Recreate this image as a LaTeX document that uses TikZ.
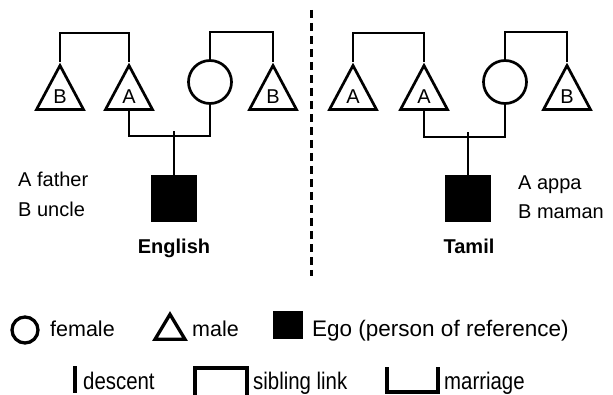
\documentclass[tikz,border=0pt]{standalone}
\usepackage{fontspec}
\usepackage{graphicx}
\setmainfont{Liberation Sans}
\usetikzlibrary{shapes.geometric}
\newcommand{\narrowtext}[1]{%
    \scalebox{0.85}[1]{#1}\ignorespaces
}
\tikzset{
    male/.style={draw, line width=2.7pt, isosceles triangle, shape border rotate=90,
        isosceles triangle stretches, minimum width=47pt, minimum height=44pt,
        inner sep=0pt, anchor=apex},
    female/.style={draw, line width=2.7pt, circle, minimum size=43pt, inner sep=0pt},
    ego/.style={fill=black, minimum width=46pt, minimum height=47pt, inner sep=0pt, anchor=north},
    term/.style={anchor=base, inner sep=0pt},
    link/.style={line width=2.7pt},
    legline/.style={line width=3.3pt},
    legtext/.style={anchor=base west, inner sep=0pt},
}

\begin{document}
\begin{tikzpicture}[x=1pt, y=-1pt, font=\fontsize{20}{24}\selectfont]
    \useasboundingbox (0,0) rectangle (613,395);

    % English kin terms
    \node[male] (engB1) at (60,62) {};
    \node[male] (engA) at (129,62) {};
    \node[female] (engM) at (210,82) {};
    \node[male] (engB2) at (273,62) {};
    \node[ego] (engEgo) at (174,175) {};
    \node[term] at ([yshift=7pt]engB1.lower side) {B};
    \node[term] at ([yshift=7pt]engA.lower side) {A};
    \node[term] at ([yshift=7pt]engB2.lower side) {B};
    \draw[link] (engB1.apex) -- ++(0,-29) -| (engA.apex);
    \draw[link] (engM.north) -- ++(0,-27) -| (engB2.apex);
    \draw[link] (engA.lower side) -- ++(0,25) -| (engM.south);
    \draw[link] (engEgo.north) -- ++(0,-44);
    \node[legtext] (engKeyA) at (18,187) {A father};
    \node[legtext] (engKeyB) at (18,217) {B uncle};
    \node[term, font=\fontsize{20}{24}\selectfont\bfseries] (engName) at (174,254) {English};

    % divider
    \coordinate (divTop) at (311,10);
    \coordinate (divBot) at (311,276);
    \draw[line width=3pt, dash pattern=on 8pt off 5pt] (divTop) -- (divBot);

    % Tamil kin terms
    \node[male] (tamA1) at (353,62) {};
    \node[male] (tamA2) at (424,62) {};
    \node[female] (tamM) at (505,82) {};
    \node[male] (tamB) at (567,62) {};
    \node[ego] (tamEgo) at (468,175) {};
    \node[term] at ([yshift=7pt]tamA1.lower side) {A};
    \node[term] at ([yshift=7pt]tamA2.lower side) {A};
    \node[term] at ([yshift=7pt]tamB.lower side) {B};
    \draw[link] (tamA1.apex) -- ++(0,-29) -| (tamA2.apex);
    \draw[link] (tamM.north) -- ++(0,-27) -| (tamB.apex);
    \draw[link] (tamA2.lower side) -- ++(0,26) -| (tamM.south);
    \draw[link] (tamEgo.north) -- ++(0,-43);
    \node[legtext] (tamKeyA) at (518,190) {A appa};
    \node[legtext] (tamKeyB) at (518,219) {B maman};
    \node[term, font=\fontsize{20}{24}\selectfont\bfseries] (tamName) at (469,254) {Tamil};

    % legend: symbols
    \node[female, legline, minimum size=26pt] (keyF) at (25,330) {};
    \node[legtext, font=\fontsize{21.5}{25}\selectfont] at (50,337) {female};
    \node[male, legline, minimum width=30pt, minimum height=25pt] (keyM) at (170,310) {};
    \node[legtext, font=\fontsize{21.5}{25}\selectfont] at (192,337) {male};
    \node[fill=black, minimum width=30pt, minimum height=28pt, inner sep=0pt, anchor=north west] (keyE) at (273,311) {};
    \node[legtext, font=\fontsize{22.5}{26}\selectfont] at (312,336) {Ego (person of reference)};

    % legend: lines
    \coordinate (descTop) at (75,366);
    \coordinate (descBot) at (75,393);
    \draw[legline] (descTop) -- (descBot);
    \node[legtext, font=\fontsize{24}{28}\selectfont] at (83,389) {\narrowtext{descent}};
    \coordinate (sibL) at (195,395);
    \coordinate (sibR) at (247,395);
    \draw[legline] (sibL) -- ++(0,-27) -| (sibR);
    \node[legtext, font=\fontsize{24}{28}\selectfont] at (253,389) {\narrowtext{sibling link}};
    \coordinate (marL) at (387,367);
    \coordinate (marR) at (438,367);
    \draw[legline] (marL) -- ++(0,25) -| (marR);
    \node[legtext, font=\fontsize{24}{28}\selectfont] at (444,389) {\narrowtext{marriage}};
\end{tikzpicture}
\end{document}
